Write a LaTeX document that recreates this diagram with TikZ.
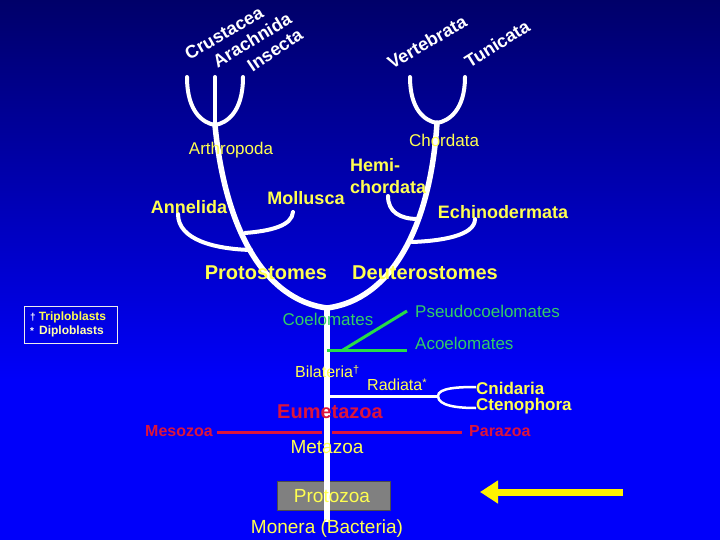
\documentclass[tikz,border=0pt]{standalone}
\usepackage{fontspec}
\setmainfont{Liberation Sans}
\usetikzlibrary{arrows.meta}
\definecolor{navy}{RGB}{0,0,105}
\definecolor{bblue}{RGB}{0,0,250}
\definecolor{tyel}{RGB}{255,255,80}
\definecolor{pyel}{RGB}{255,255,170}
\definecolor{tgreen}{RGB}{51,204,102}
\definecolor{lgreen}{RGB}{40,220,70}
\definecolor{tred}{RGB}{220,20,60}
\definecolor{pgray}{RGB}{128,128,128}
\newcommand\fsz[1]{\fontsize{#1}{#1}\selectfont}
\begin{document}
\begin{tikzpicture}[x=1pt,y=-1pt,
  mainbr/.style={white, line width=5.5pt, line cap=round},
  twig/.style={white, line width=4pt, line cap=round},
  greenln/.style={lgreen, line width=3pt},
  redln/.style={tred, line width=3pt},
  wlab/.style={text=white, inner sep=0pt, font=\fsz{18}\bfseries},
  blab/.style={text=tyel, inner sep=0pt, font=\fsz{18}\bfseries},
  rlab/.style={text=tyel, inner sep=0pt, font=\fsz{17}},
  glab/.style={text=tgreen, inner sep=0pt, font=\fsz{17}},
  redlab/.style={text=tred, inner sep=0pt, font=\fsz{16}\bfseries},
  leglab/.style={inner sep=0pt, anchor=west, font=\fsz{12}\bfseries}
]
\useasboundingbox (0,0) rectangle (720,540);
\shade[top color=navy, bottom color=bblue] (0,0) rectangle (720,380);
\fill[bblue] (0,379.5) rectangle (720,540);

% coordinates
\coordinate (aTopL) at (187,77);
\coordinate (aTopM) at (215,77);
\coordinate (aTopR) at (243,77);
\coordinate (aJoin) at (215,125);
\coordinate (cTopL) at (410,77);
\coordinate (cTopR) at (465,77);
\coordinate (cJoin) at (437,123);
\coordinate (bottom) at (327,308);
\coordinate (trunkEnd) at (327,522);
\coordinate (annTop) at (178,214);
\coordinate (annJoin) at (251,250);
\coordinate (molTop) at (293,212);
\coordinate (molJoin) at (245,233);
\coordinate (hemTop) at (388,196);
\coordinate (hemJoin) at (418,219);
\coordinate (echTop) at (475,219);
\coordinate (echJoin) at (412,242);
\coordinate (coelJ) at (327,350);
\coordinate (greenEnd) at (407,350);
\coordinate (greenK) at (343,350);
\coordinate (pseudoEnd) at (407,311);
\coordinate (radJ) at (327,396);
\coordinate (radFork) at (438,396);
\coordinate (cniEnd) at (476,387);
\coordinate (ctenEnd) at (476,408);
\coordinate (mesoEnd) at (217,432);
\coordinate (gapL) at (322,432);
\coordinate (gapR) at (332,432);
\coordinate (paraEnd) at (462,432);
\coordinate (arrStart) at (623,492);
\coordinate (arrTip) at (480,492);

% legend box
\draw[white!85!gray, line width=1pt] (24,306) rectangle (117,343);
% Protozoa box
\node[draw=black!70, fill=pgray, minimum width=113pt, minimum height=29pt, inner sep=0pt] (protobox) at (333.5,495.5) {};

% tree
\draw[twig] (aTopM) -- (aJoin);
\draw[twig] (aTopL) .. controls (187,112) and (203,123) .. (aJoin);
\draw[twig] (aTopR) .. controls (243,112) and (227,123) .. (aJoin);
\draw[twig] (cTopL) .. controls (410,110) and (425,121) .. (cJoin);
\draw[twig] (cTopR) .. controls (465,110) and (449,121) .. (cJoin);
\draw[mainbr] (aJoin) .. controls (225,230) and (265,300) .. (bottom);
\draw[mainbr] (cJoin) .. controls (430,230) and (390,300) .. (bottom);
\draw[twig] (annTop) .. controls (178,240) and (215,249) .. (annJoin);
\draw[twig] (molTop) .. controls (292,226) and (270,231) .. (molJoin);
\draw[twig] (hemTop) .. controls (388,212) and (400,219) .. (hemJoin);
\draw[twig] (echTop) .. controls (475,236) and (440,241) .. (echJoin);
\draw[mainbr, line cap=butt] (bottom) -- (trunkEnd);
\draw[greenln] (coelJ) -- (greenEnd);
\draw[greenln] (greenK) -- (pseudoEnd);
\draw[white, line width=3pt] (radJ) -- (radFork);
\draw[white, line width=2.5pt] (radFork) .. controls (438,388) and (458,387) .. (cniEnd);
\draw[white, line width=2.5pt] (radFork) .. controls (438,406) and (458,408) .. (ctenEnd);
\draw[redln] (mesoEnd) -- (gapL);
\draw[redln] (gapR) -- (paraEnd);
\draw[yellow, line width=7pt, -{Triangle[length=18pt,width=22pt]}] (arrStart) -- (arrTip);

% labels
\node[wlab, rotate=30] (crus) at (224,33) {Crustacea};
\node[wlab, rotate=31] (arach) at (252,40) {Arachnida};
\node[wlab, rotate=34] (insec) at (275,50) {Insecta};
\node[wlab, rotate=30] (vert) at (427,42) {Vertebrata};
\node[wlab, rotate=32] (tuni) at (497,44) {Tunicata};
\node[rlab] (arthro) at (231,150) {Arthropoda};
\node[rlab] (chord) at (444,140) {Chordata};
\node[blab] (annel) at (189,207) {Annelida};
\node[blab] (mollu) at (306,198) {Mollusca};
\node[blab, anchor=west, align=left] (hemi) at (350,176) {Hemi-\\[4pt]chordata};
\node[blab] (echin) at (503,212) {Echinodermata};
\node[blab, font=\fsz{20}\bfseries] (proto) at (266,273) {Protostomes};
\node[blab, font=\fsz{20}\bfseries] (deut) at (425,273) {Deuterostomes};
\node[leglab, text=tyel] (trip) at (30,317) {\textcolor{white}{\fsz{10}†}\hspace{3pt}Triploblasts};
\node[leglab, text=pyel] (dipl) at (30,331) {\textcolor{white}{\fsz{10}*}\hspace{5pt}Diploblasts};
\node[glab] (coel) at (328,319) {Coelomates};
\node[glab, anchor=west] (pseudo) at (415,311) {Pseudocoelomates};
\node[glab, anchor=west] (acoel) at (415,343) {Acoelomates};
\node[rlab, font=\fsz{16}, anchor=west] (bilat) at (295,372) {Bilateria\raisebox{4pt}{\fsz{11}†}};
\node[rlab, font=\fsz{16}, anchor=west] (radiat) at (367,385) {Radiata\raisebox{4pt}{\fsz{11}*}};
\node[blab, font=\fsz{17}\bfseries, anchor=west] (cnid) at (476,388) {Cnidaria};
\node[blab, font=\fsz{17}\bfseries, anchor=west] (cten) at (476,406) {Ctenophora};
\node[redlab, font=\fsz{20}\bfseries] (eumet) at (330,412) {Eumetazoa};
\node[redlab, anchor=west] (meso) at (145,431) {Mesozoa};
\node[redlab, anchor=west] (para) at (469,431) {Parazoa};
\node[rlab, font=\fsz{19}] (meta) at (327,447) {Metazoa};
\node[rlab, font=\fsz{19}] (protoz) at (332,496) {Protozoa};
\node[rlab, font=\fsz{19}] (monera) at (327,529) {Monera (Bacteria)};
\end{tikzpicture}
\end{document}
